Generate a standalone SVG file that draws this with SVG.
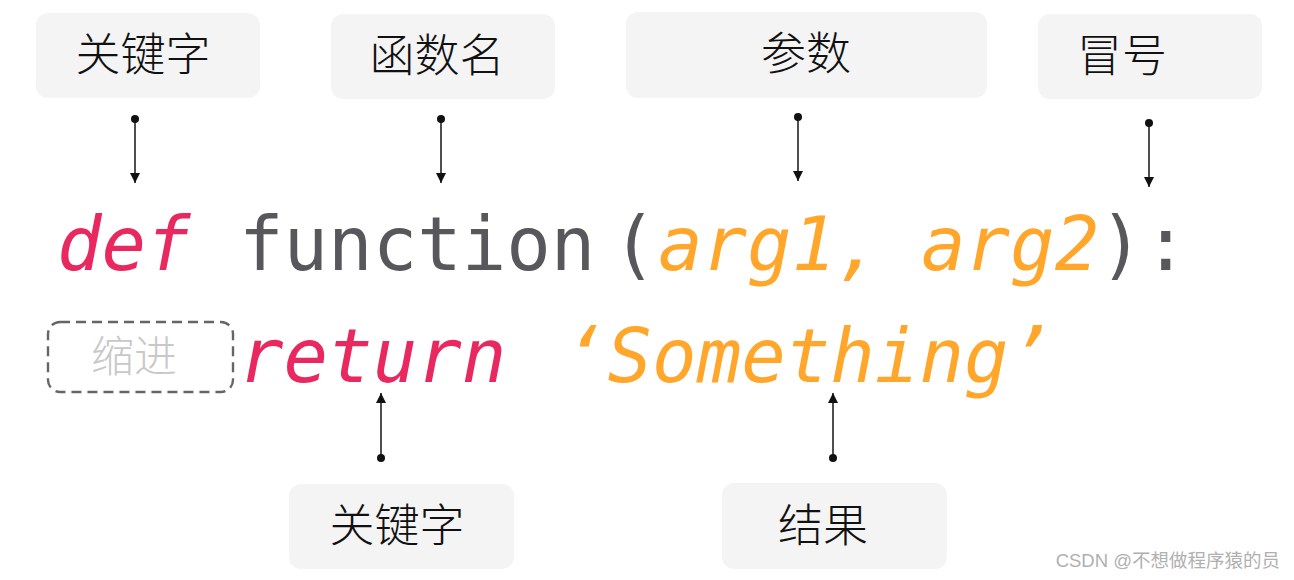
<svg xmlns="http://www.w3.org/2000/svg" width="1294" height="580" viewBox="0 0 1294 580">
<style>
.box{fill:#f4f4f4;}
.lbl{font-family:"Noto Sans CJK SC","Noto Sans",sans-serif;font-size:45px;font-weight:300;fill:#111;text-anchor:middle;}
.code{font-family:"DejaVu Sans Mono","Liberation Mono",monospace;font-size:74px;}
.it{font-style:italic;}
.kw{fill:#e8285f;}
.fn{fill:#58585c;}
.ar{fill:#ffa62b;}
.ln{stroke:#222;stroke-width:1.6;fill:none;}
.dot{fill:#111;}
</style>
<defs>
<marker id="ah" viewBox="0 0 10 10" refX="10" refY="5" markerWidth="10" markerHeight="10" markerUnits="userSpaceOnUse" orient="auto">
<path d="M0,0 L10,5 L0,10 z" fill="#111"/>
</marker>
</defs>
<rect width="1294" height="580" fill="#fff"/>
<g id="n-keyword-top"><rect class="box" x="36" y="13" width="224" height="85" rx="12"/><text class="lbl" x="143" y="71">关键字</text></g>
<g id="n-funcname"><rect class="box" x="331" y="14" width="224" height="85" rx="12"/><text class="lbl" x="437" y="72">函数名</text></g>
<g id="n-params"><rect class="box" x="626" y="12" width="361" height="86" rx="12"/><text class="lbl" x="806" y="70">参数</text></g>
<g id="n-colon"><rect class="box" x="1038" y="14" width="224" height="85" rx="12"/><text class="lbl" x="1122" y="72">冒号</text></g>
<g id="n-keyword-bottom"><rect class="box" x="289" y="484" width="225" height="85" rx="12"/><text class="lbl" x="397" y="542">关键字</text></g>
<g id="n-result"><rect class="box" x="722" y="483" width="225" height="86" rx="12"/><text class="lbl" x="823" y="542">结果</text></g>
<g id="n-code">
<text class="code it kw" x="57" y="270">def</text>
<text class="code fn" x="239" y="270">function</text>
<text class="code fn" x="612" y="270">(</text>
<text class="code it ar" x="658" y="270">arg1,</text>
<text class="code it ar" x="921" y="270">arg2</text>
<text class="code fn" x="1099" y="270">):</text>
<text class="code it kw" x="239" y="382">return</text>
<text class="code it ar" x="563" y="382">‘Something’</text>
</g>
<g id="n-indent">
<rect x="48" y="322" width="185" height="70" rx="12" fill="none" stroke="#666" stroke-width="2.4" stroke-dasharray="10,6"/>
<text x="134" y="372" font-family="'Noto Sans CJK SC',sans-serif" font-size="43" font-weight="300" fill="#c8c8c8" text-anchor="middle">缩进</text>
</g>
<g id="connectors">
<line class="ln" x1="135" y1="119" x2="135" y2="183" marker-end="url(#ah)"/><circle class="dot" cx="135" cy="119" r="4"/>
<line class="ln" x1="441" y1="119" x2="441" y2="183" marker-end="url(#ah)"/><circle class="dot" cx="441" cy="119" r="4"/>
<line class="ln" x1="798" y1="117" x2="798" y2="181" marker-end="url(#ah)"/><circle class="dot" cx="798" cy="117" r="4"/>
<line class="ln" x1="1149" y1="123" x2="1149" y2="187" marker-end="url(#ah)"/><circle class="dot" cx="1149" cy="123" r="4"/>
<line class="ln" x1="381" y1="458" x2="381" y2="393" marker-end="url(#ah)"/><circle class="dot" cx="381" cy="458" r="4"/>
<line class="ln" x1="833" y1="458" x2="833" y2="393" marker-end="url(#ah)"/><circle class="dot" cx="833" cy="458" r="4"/>
</g>
<text x="1280" y="567" font-family="'Liberation Sans','Noto Sans CJK SC',sans-serif" font-size="18.5" fill="#b0b0b0" text-anchor="end">CSDN @不想做程序猿的员</text>
</svg>
